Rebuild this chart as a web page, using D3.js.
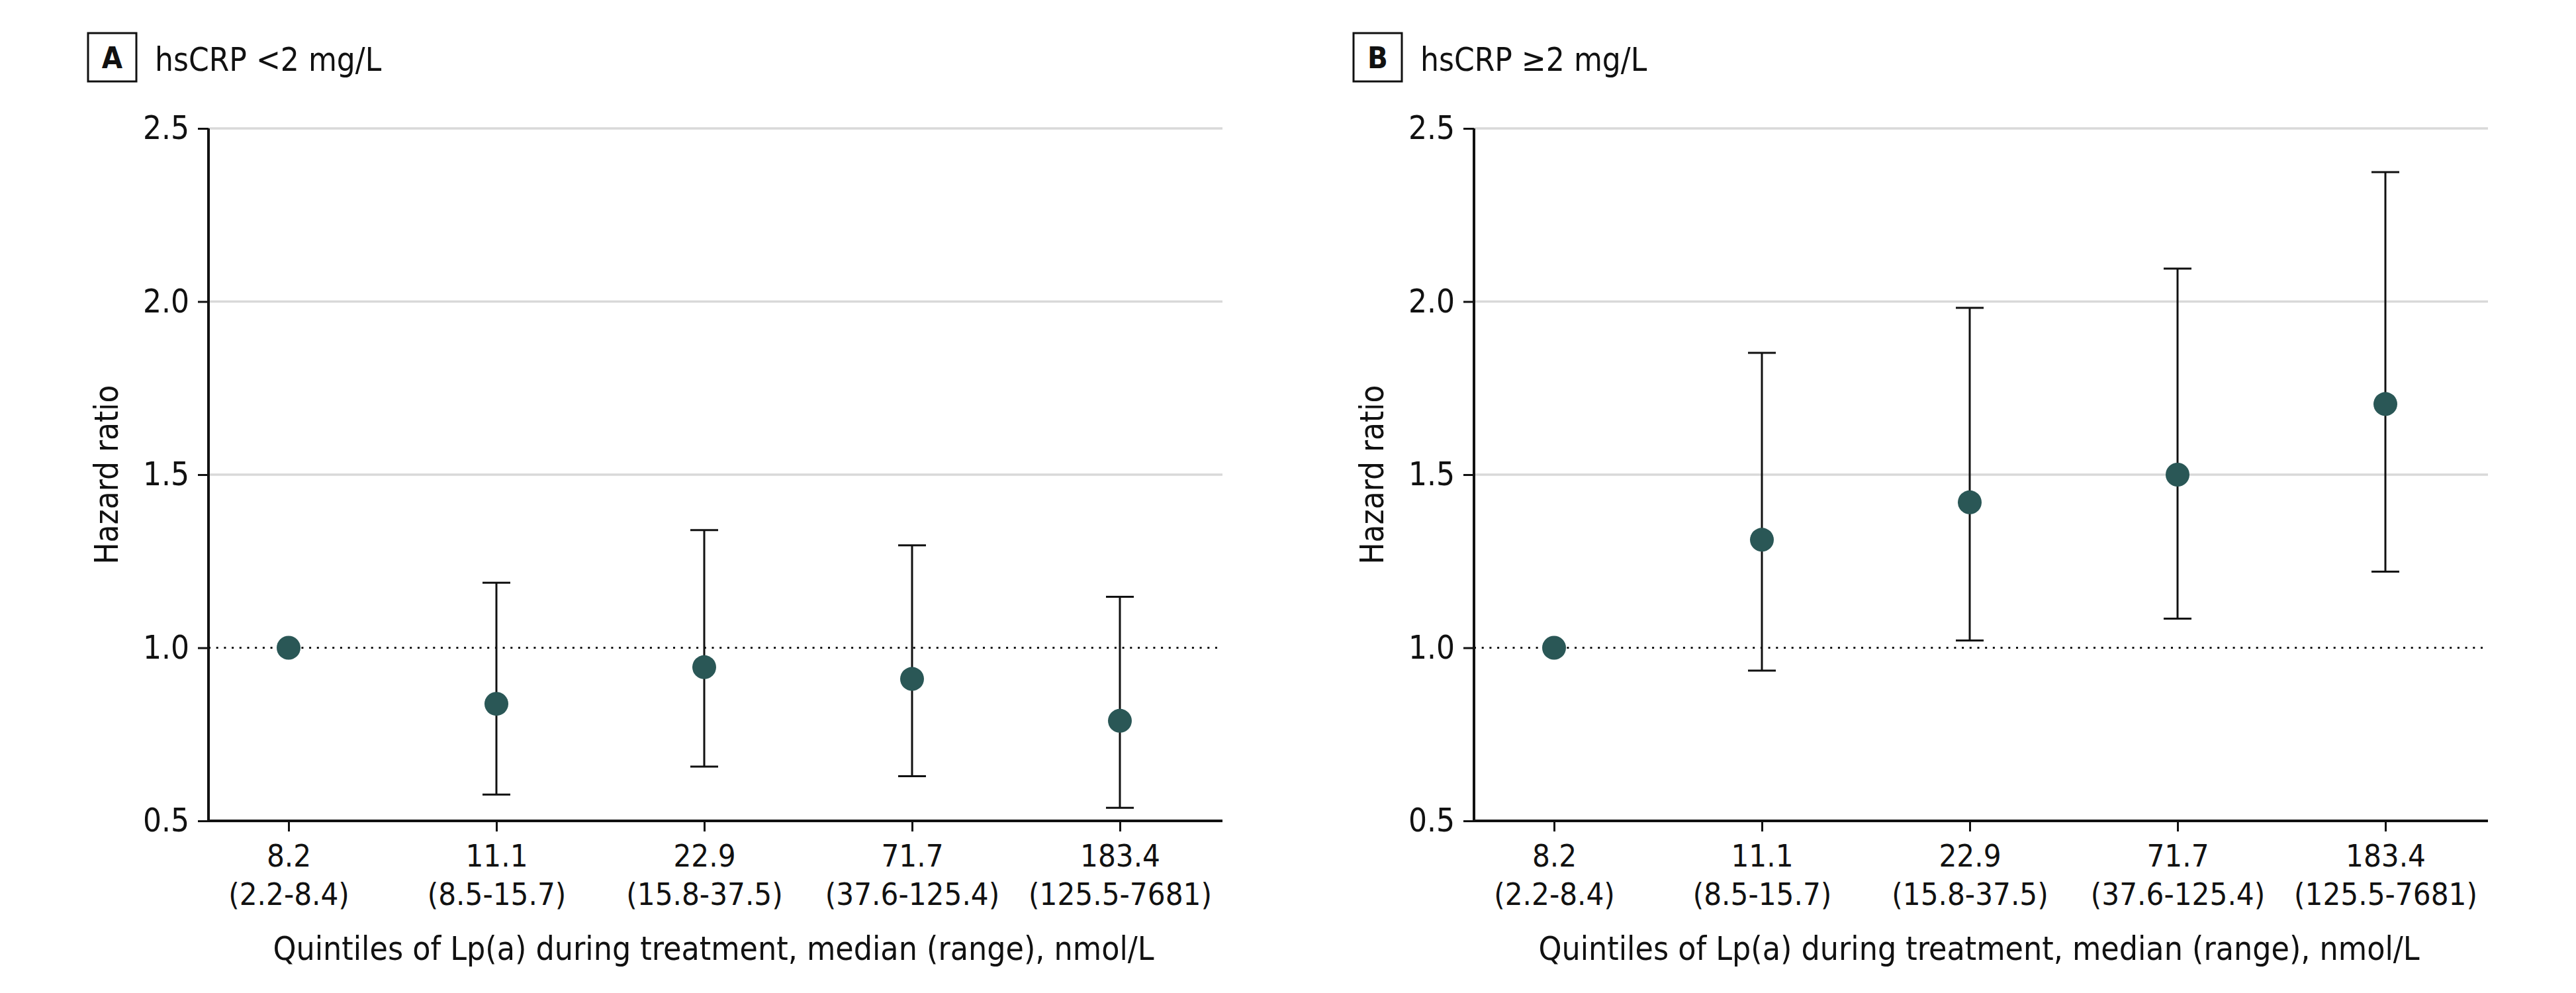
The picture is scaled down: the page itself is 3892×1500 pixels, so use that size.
<!DOCTYPE html>
<html>
<head>
<meta charset="utf-8">
<script src="https://cdn.jsdelivr.net/npm/d3@7"></script>
<style>
  html, body { margin: 0; padding: 0; background: #ffffff; }
  svg { display: block; }
  text { font-family: "Liberation Sans Narrow", "DejaVu Sans Condensed", "Liberation Sans", sans-serif; fill: #111; }
</style>
</head>
<body>
<svg id="chart" width="3892" height="1500"></svg>
<script>
// ---- Data ----
const categories = ["8.2", "11.1", "22.9", "71.7", "183.4"];
const rangeLabels = ["(2.2-8.4)", "(8.5-15.7)", "(15.8-37.5)", "(37.6-125.4)", "(125.5-7681)"];

const hrLowCRP    = [1.0, 0.838, 0.944, 0.910, 0.789];
const lowerLowCRP = [null, 0.576, 0.657, 0.629, 0.538];
const upperLowCRP = [null, 1.188, 1.340, 1.296, 1.147];

const hrHighCRP    = [1.0, 1.312, 1.420, 1.500, 1.704];
const lowerHighCRP = [null, 0.934, 1.021, 1.084, 1.220];
const upperHighCRP = [null, 1.852, 1.982, 2.095, 2.374];

const yTickValues = [0.5, 1.0, 1.5, 2.0, 2.5];
const panelLetters = ["A", "B"];
const panelTitles = ["hsCRP <2 mg/L", "hsCRP \u22652 mg/L"];
const yAxisTitle = "Hazard ratio";
const xAxisTitle = "Quintiles of Lp(a) during treatment, median (range), nmol/L";

const panels = [
  { letter: panelLetters[0], title: panelTitles[0], hr: hrLowCRP, lo: lowerLowCRP, hi: upperLowCRP, x0: 315 },
  { letter: panelLetters[1], title: panelTitles[1], hr: hrHighCRP, lo: lowerHighCRP, hi: upperHighCRP, x0: 2227 }
];

// ---- Layout ----
const plotW = 1532;
const yTop = 194, yBottom = 1240;
const markerColor = "#2a5756";

const svg = d3.select("#chart");

const y = d3.scaleLinear().domain([0.5, 2.5]).range([yBottom, yTop]);

panels.forEach(p => {
  const g = svg.append("g").attr("transform", `translate(${p.x0},0)`);
  const x = d3.scalePoint().domain(categories).range([121, 1377]);

  // gridlines (except 1.0 and 0.5)
  g.selectAll("line.grid")
    .data(yTickValues.filter(v => v > 1.0))
    .enter().append("line")
    .attr("class", "grid")
    .attr("x1", 0).attr("x2", plotW)
    .attr("y1", d => y(d)).attr("y2", d => y(d))
    .attr("stroke", "#d9d9d9").attr("stroke-width", 3.5);

  // reference line at 1.0
  g.append("line")
    .attr("x1", 0).attr("x2", plotW)
    .attr("y1", y(1.0)).attr("y2", y(1.0))
    .attr("stroke", "#111").attr("stroke-width", 3)
    .attr("stroke-dasharray", "3,8.7");

  // y axis
  const yAxis = d3.axisLeft(y).tickValues(yTickValues).tickFormat(d3.format(".1f"))
    .tickSize(16).tickPadding(13);
  const ya = g.append("g").call(yAxis);
  ya.select(".domain").attr("stroke", "#111").attr("stroke-width", 4)
    .attr("d", `M0,${yTop}V${yBottom}`);
  ya.selectAll(".tick line").attr("stroke", "#111").attr("stroke-width", 3);
  ya.selectAll(".tick text").attr("font-size", 49).attr("fill", "#111")
    .style("font-family", "'Liberation Sans Narrow', 'DejaVu Sans Condensed', sans-serif");

  // x axis
  const xAxis = d3.axisBottom(x).tickSize(16).tickFormat("");
  const xa = g.append("g").attr("transform", `translate(0,${yBottom})`).call(xAxis);
  xa.select(".domain").attr("stroke", "#111").attr("stroke-width", 4)
    .attr("d", `M0,0H${plotW}`);
  xa.selectAll(".tick line").attr("stroke", "#111").attr("stroke-width", 3);
  xa.selectAll(".tick text").remove();
  xa.selectAll(".tick").each(function(d, i) {
    const t = d3.select(this).append("text")
      .attr("text-anchor", "middle")
      .attr("font-size", 47)
      .attr("fill", "#111");
    t.append("tspan").attr("x", 0).attr("y", 69).text(categories[i]);
    t.append("tspan").attr("x", 0).attr("y", 127).text(rangeLabels[i]);
  });

  // x axis title
  g.append("text")
    .attr("x", 763).attr("y", 1450)
    .attr("text-anchor", "middle")
    .attr("font-size", 49.5)
    .text(xAxisTitle);

  // y axis title
  g.append("text")
    .attr("transform", `translate(-137,717) rotate(-90)`)
    .attr("text-anchor", "middle")
    .attr("font-size", 49)
    .text(yAxisTitle);

  // panel label box
  g.append("rect")
    .attr("x", -182).attr("y", 50).attr("width", 73).attr("height", 73)
    .attr("fill", "none").attr("stroke", "#111").attr("stroke-width", 3);
  g.append("text")
    .attr("x", -182 + 36.5).attr("y", 103)
    .attr("text-anchor", "middle")
    .attr("font-size", 45).attr("font-weight", "bold")
    .text(p.letter);
  g.append("text")
    .attr("x", -182 + 101).attr("y", 107)
    .attr("font-size", 49)
    .text(p.title);

  // error bars
  const idx = d3.range(categories.length).filter(i => p.lo[i] != null);
  const eb = g.selectAll("g.eb").data(idx).enter().append("g").attr("class", "eb");
  eb.append("line")
    .attr("x1", i => x(categories[i])).attr("x2", i => x(categories[i]))
    .attr("y1", i => y(p.lo[i])).attr("y2", i => y(p.hi[i]))
    .attr("stroke", "#111").attr("stroke-width", 3);
  eb.append("line")
    .attr("x1", i => x(categories[i]) - 21).attr("x2", i => x(categories[i]) + 21)
    .attr("y1", i => y(p.hi[i])).attr("y2", i => y(p.hi[i]))
    .attr("stroke", "#111").attr("stroke-width", 3);
  eb.append("line")
    .attr("x1", i => x(categories[i]) - 21).attr("x2", i => x(categories[i]) + 21)
    .attr("y1", i => y(p.lo[i])).attr("y2", i => y(p.lo[i]))
    .attr("stroke", "#111").attr("stroke-width", 3);

  // points
  g.selectAll("circle.pt").data(p.hr).enter().append("circle")
    .attr("class", "pt")
    .attr("cx", (d, i) => x(categories[i]))
    .attr("cy", d => y(d))
    .attr("r", 18)
    .attr("fill", markerColor);
});
</script>
</body>
</html>
